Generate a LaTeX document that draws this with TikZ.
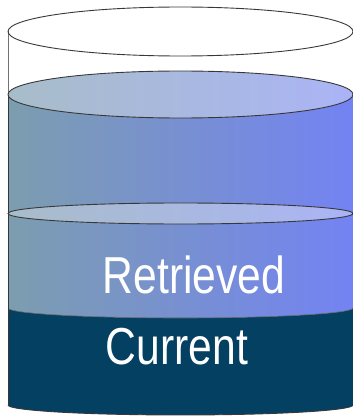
\documentclass[tikz,border=0pt]{standalone}
\usepackage{fontspec}
\setmainfont{Liberation Sans}
\usepackage{graphicx}
\definecolor{bodyL}{HTML}{7C9DAF}
\definecolor{bodyR}{HTML}{7383F3}
\definecolor{lidL}{HTML}{A8BDC9}
\definecolor{lidR}{HTML}{AAB4F6}
\definecolor{navy}{HTML}{034062}
\begin{document}
\begin{tikzpicture}[x=1pt,y=1pt,
  outl/.style={draw=black!78, line width=0.9pt},
  thinl/.style={draw=black!55, line width=0.5pt},
  lbl/.style={text=white, font=\fontsize{52}{52}\selectfont, anchor=base, inner sep=0pt}]
\useasboundingbox (0,0) rectangle (353,416);
% blue body
\shade[left color=bodyL, right color=bodyR] (8,321.5) -- (8,108)
  arc[start angle=180,end angle=360,x radius=172.5,y radius=10] -- (353,321.5) -- cycle;
% navy base
\fill[navy] (8,108) arc[start angle=180,end angle=360,x radius=172.5,y radius=10]
  -- (353,11) arc[start angle=0,end angle=-180,x radius=172.5,y radius=10] -- cycle;
\draw[draw=black!60, line width=0.6pt] (8,108) arc[start angle=180,end angle=360,x radius=172.5,y radius=10];
\draw[outl] (8,11) arc[start angle=180,end angle=360,x radius=172.5,y radius=10];
% side lines
\draw[thinl] (8,384.5) -- (8,321.5);
\draw[outl] (8,321.5) -- (8,11);
% liquid surfaces
\shade[outl, left color=lidL, right color=lidR] (180.5,321.5) ellipse[x radius=172.5,y radius=23.5];
\shade[outl, left color=lidL, right color=lidR] (180.5,202.5) ellipse[x radius=172.5,y radius=10.5];
% top rim
\draw[outl] (180.5,384.5) ellipse[x radius=172.5,y radius=24.5];
% labels
\node[lbl] (retrieved) at (194,122) {\scalebox{0.82}[1]{Retrieved}};
\node[lbl] (current) at (177,52) {\scalebox{0.82}[1]{Current}};
\end{tikzpicture}
\end{document}
